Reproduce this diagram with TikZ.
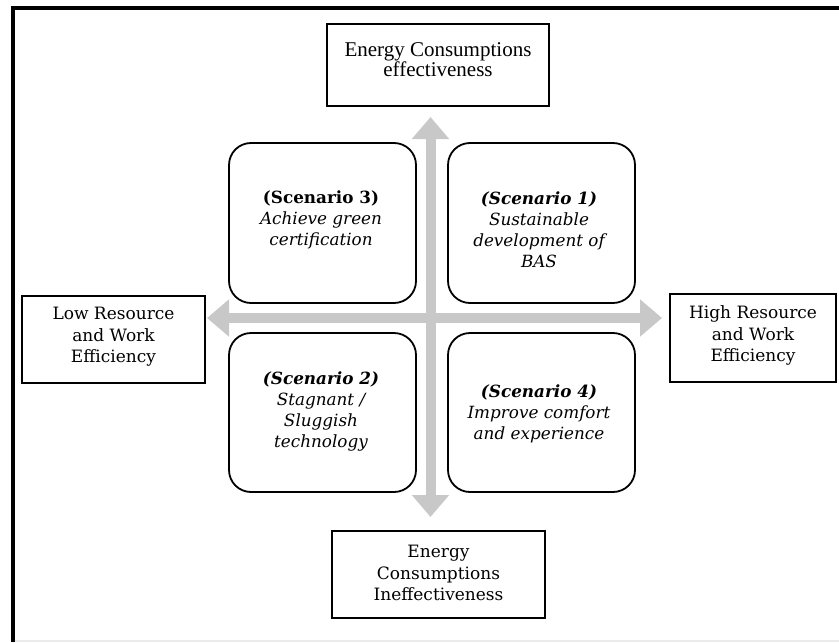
\documentclass[tikz,border=0pt]{standalone}
\usepackage{fontspec}
\setmainfont{Liberation Serif}
\newfontfamily\bookf{DejaVu Serif}
\usetikzlibrary{arrows.meta}
\definecolor{arrowgray}{RGB}{200,200,200}
\tikzset{
  sqbox/.style={draw=black, line width=0.75pt, fill=white, inner sep=0pt},
  scenbox/.style={draw=black, line width=0.9pt, rounded corners=11pt, inner sep=0pt},
  toplbl/.style={align=center, inner sep=0pt, font=\fontsize{10.5}{10}\selectfont},
  booklbl/.style={align=center, inner sep=0pt, font=\bookf\fontsize{8.5}{10.75}\selectfont},
  scenlbl/.style={align=center, inner sep=0pt, font=\bookf\itshape\fontsize{8.4}{10.5}\selectfont},
  axisarrow/.style={draw=arrowgray, line width=5pt,
    {Triangle[width=18pt,length=11pt]}-{Triangle[width=18pt,length=11pt]}},
}
\begin{document}
\begin{tikzpicture}[x=0.5pt,y=-0.5pt]
\useasboundingbox (0,0) rectangle (839,642);
% frame
\draw[black!8, line width=0.6pt] (15,641) -- (839,641);
\draw[black, line width=2pt] (13,642) -- (13,8.5) -- (839,8.5);

% axis end points
\coordinate (vtop) at (430.5,117);
\coordinate (vbot) at (430.5,517);
\coordinate (hleft) at (207,318);
\coordinate (hright) at (662,318);
\draw[axisarrow] (vbot) -- (vtop);
\draw[axisarrow] (hleft) -- (hright);

% axis label boxes
\node[sqbox, minimum width=111pt, minimum height=41pt] (topbox) at (438,65) {};
\node[toplbl] (toptxt) at (438,60) {Energy Consumptions\\effectiveness};

\node[sqbox, minimum width=91.5pt, minimum height=43.5pt] (leftbox) at (113.5,339.5) {};
\node[booklbl] (lefttxt) at (113.5,337) {Low Resource\\and Work\\Efficiency};

\node[sqbox, minimum width=83pt, minimum height=44pt] (rightbox) at (753,338) {};
\node[booklbl] (righttxt) at (753,335.5) {High Resource\\and Work\\Efficiency};

\node[sqbox, minimum width=106.5pt, minimum height=43.5pt] (botbox) at (438.5,574.5) {};
\node[booklbl] (bottxt) at (438.5,573) {Energy\\Consumptions\\Ineffectiveness};

% scenario boxes
\node[scenbox, minimum width=93.5pt, minimum height=80pt] (s3) at (322.5,223) {};
\node[scenbox, minimum width=93.5pt, minimum height=80pt] (s1) at (541.5,223) {};
\node[scenbox, minimum width=93.5pt, minimum height=79.5pt] (s2) at (322.5,412.5) {};
\node[scenbox, minimum width=93.5pt, minimum height=79.5pt] (s4) at (541.5,412.5) {};

\node[scenlbl] (s3txt) at (321,220) {{\upshape\bfseries (Scenario 3)}\\Achieve green\\certification};
\node[scenlbl] (s1txt) at (539,230) {{\bfseries (Scenario 1)}\\Sustainable\\development of\\BAS};
\node[scenlbl] (s2txt) at (321,411) {{\bfseries (Scenario 2)}\\Stagnant /\\Sluggish\\technology};
\node[scenlbl] (s4txt) at (539,414) {{\bfseries (Scenario 4)}\\Improve comfort\\and experience};
\end{tikzpicture}
\end{document}
